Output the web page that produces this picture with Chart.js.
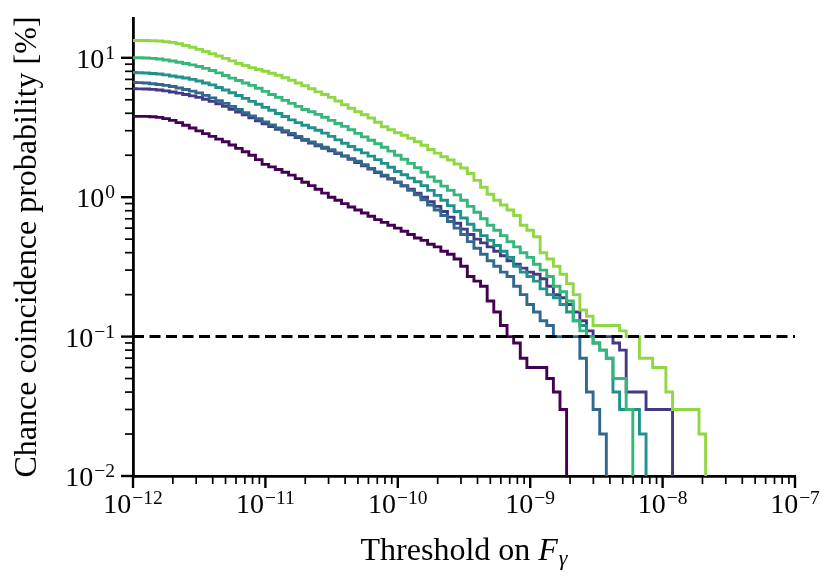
<!DOCTYPE html>
<html>
<head>
<meta charset="utf-8">
<script src="https://cdn.jsdelivr.net/npm/chart.js@4.4.1/dist/chart.umd.min.js"></script>
<style>
  html, body { margin: 0; padding: 0; background: #fff; }
  #wrap { width: 831px; height: 582px; }
</style>
</head>
<body>
<div id="wrap"><canvas id="chanceChart" width="831" height="582"></canvas></div>
<script>
// Threshold grid: 20 steps per decade, 1e-12 ... 1e-8
const mantissas = [1.000, 1.122, 1.259, 1.413, 1.585, 1.778, 1.995, 2.239, 2.512, 2.818,
                   3.162, 3.548, 3.981, 4.467, 5.012, 5.623, 6.310, 7.079, 7.943, 8.913];
const decades = [-12, -11, -10, -9, -8];

// Chance coincidence probability [%] at each threshold (0 = nothing left)
const probLime = [13.3, 13.3, 13.3, 13.25, 13.2, 13.05, 12.9, 12.6, 12.25, 11.9,
  11.5, 11.1, 10.7, 10.3, 9.9, 9.5, 9.1, 8.8, 8.5, 8.25,
  8.0, 7.75, 7.5, 7.2, 6.9, 6.6, 6.3, 6.0, 5.7, 5.45,
  5.2, 4.9, 4.6, 4.35, 4.1, 3.9, 3.7, 3.45, 3.2, 3.05,
  2.9, 2.78, 2.65, 2.5, 2.36, 2.2, 2.07, 1.95, 1.85, 1.73,
  1.62, 1.48, 1.32, 1.18, 1.05, 0.95, 0.88, 0.81, 0.74, 0.63,
  0.58, 0.52, 0.40, 0.36, 0.32, 0.28, 0.24, 0.20, 0.155, 0.14,
  0.12, 0.12, 0.12, 0.12, 0.11, 0.10, 0.10, 0.07, 0.07, 0.06,
  0.06, 0.04, 0.03, 0.03, 0.03, 0.03, 0.02, 0];
const probGreen = [10.0, 10.0, 9.97, 9.9, 9.8, 9.65, 9.49, 9.3, 9.1, 8.9,
  8.66, 8.4, 8.11, 7.8, 7.47, 7.15, 6.88, 6.6, 6.34, 6.05,
  5.74, 5.45, 5.2, 4.95, 4.71, 4.48, 4.26, 4.1, 3.93, 3.75,
  3.56, 3.38, 3.22, 3.05, 2.87, 2.71, 2.56, 2.42, 2.28, 2.14,
  2.0, 1.87, 1.75, 1.63, 1.51, 1.4, 1.3, 1.2, 1.12, 1.04,
  0.95, 0.86, 0.78, 0.7, 0.63, 0.58, 0.53, 0.48, 0.44, 0.4,
  0.37, 0.33, 0.3, 0.27, 0.23, 0.21, 0.18, 0.13, 0.11, 0.1,
  0.09, 0.08, 0.07, 0.05, 0.05, 0.03, 0];
const probTeal = [7.85, 7.82, 7.78, 7.72, 7.66, 7.54, 7.41, 7.29, 7.17, 7.0,
  6.82, 6.6, 6.39, 6.13, 5.88, 5.62, 5.37, 5.12, 4.87, 4.64,
  4.41, 4.2, 3.99, 3.79, 3.59, 3.43, 3.28, 3.15, 3.02, 2.88,
  2.73, 2.58, 2.44, 2.31, 2.19, 2.08, 1.97, 1.86, 1.75, 1.64,
  1.53, 1.45, 1.37, 1.29, 1.21, 1.12, 1.03, 0.95, 0.87, 0.79,
  0.71, 0.64, 0.58, 0.53, 0.49, 0.45, 0.41, 0.37, 0.32, 0.29,
  0.27, 0.25, 0.22, 0.2, 0.19, 0.17, 0.15, 0.13, 0.12, 0.1,
  0.09, 0.08, 0.07, 0.04, 0.03, 0.03, 0.03, 0.02, 0];
const probBlue = [6.66, 6.64, 6.6, 6.52, 6.44, 6.34, 6.23, 6.08, 5.93, 5.77,
  5.6, 5.38, 5.16, 4.93, 4.71, 4.48, 4.26, 4.04, 3.83, 3.65,
  3.47, 3.3, 3.14, 3.0, 2.87, 2.73, 2.6, 2.49, 2.38, 2.28,
  2.19, 2.08, 1.98, 1.89, 1.81, 1.71, 1.61, 1.52, 1.44, 1.36,
  1.28, 1.2, 1.12, 1.04, 0.96, 0.88, 0.81, 0.74, 0.67, 0.6,
  0.54, 0.48, 0.43, 0.39, 0.35, 0.32, 0.29, 0.27, 0.23, 0.2,
  0.17, 0.15, 0.13, 0.12, 0.1, 0.1, 0.1, 0.1, 0.07, 0.04,
  0.03, 0.02, 0];
const probIndigo = [6.0, 5.99, 5.98, 5.94, 5.88, 5.79, 5.69, 5.58, 5.46, 5.33,
  5.2, 5.04, 4.87, 4.68, 4.48, 4.28, 4.09, 3.9, 3.71, 3.53,
  3.36, 3.21, 3.07, 2.93, 2.8, 2.68, 2.56, 2.45, 2.34, 2.24,
  2.15, 2.06, 1.97, 1.87, 1.77, 1.68, 1.59, 1.5, 1.42, 1.35,
  1.28, 1.21, 1.14, 1.07, 1.0, 0.93, 0.86, 0.79, 0.72, 0.65,
  0.59, 0.54, 0.5, 0.47, 0.44, 0.41, 0.38, 0.35, 0.33, 0.31,
  0.29, 0.28, 0.26, 0.23, 0.2, 0.19, 0.17, 0.15, 0.13, 0.11,
  0.1, 0.1, 0.1, 0.09, 0.08, 0.04, 0.04, 0.04, 0.03, 0.03,
  0.03, 0.03, 0];
const probPurple = [3.8, 3.8, 3.8, 3.78, 3.74, 3.66, 3.56, 3.43, 3.28, 3.14,
  2.99, 2.86, 2.73, 2.61, 2.5, 2.37, 2.24, 2.12, 2.0, 1.86,
  1.72, 1.65, 1.58, 1.51, 1.44, 1.36, 1.28, 1.21, 1.14, 1.07,
  1.0, 0.95, 0.9, 0.85, 0.81, 0.77, 0.73, 0.69, 0.66, 0.63,
  0.6, 0.57, 0.54, 0.51, 0.49, 0.46, 0.44, 0.41, 0.39, 0.36,
  0.32, 0.27, 0.25, 0.23, 0.18, 0.15, 0.12, 0.1, 0.09, 0.07,
  0.06, 0.06, 0.06, 0.05, 0.04, 0.03, 0];

const seriesList = [probLime, probGreen, probTeal, probBlue, probIndigo, probPurple];
const lineColors = ['#90d743', '#35b779', '#21918c', '#31688e', '#443983', '#440154'];

const refLevel = 0.1;                 // dashed line
const xLimits = [1e-12, 1e-7];
const yLimits = [1e-2, 19.3];
const xTickExps = [-12, -11, -10, -9, -8, -7];
const yTickExps = [-2, -1, 0, 1];
const minorMults = [2, 3, 4, 5, 6, 7, 8, 9];

const thresholds = [];
decades.forEach(d => mantissas.forEach(m => thresholds.push(m * Math.pow(10, d))));

const FONT = '"Liberation Serif", "Times New Roman", serif';
const belowAxis = 1e-3;   // zeros are drawn as a drop off the bottom

const datasets = [{
  data: [{ x: xLimits[0], y: refLevel }, { x: xLimits[1], y: refLevel }],
  borderColor: '#000',
  borderWidth: 3,
  borderDash: [11, 5.5],
  pointRadius: 0
}];
seriesList.forEach((vals, i) => {
  datasets.push({
    data: vals.map((v, k) => ({ x: thresholds[k], y: v > 0 ? v : belowAxis })),
    borderColor: lineColors[i],
    borderWidth: 2.9,
    stepped: 'middle',
    pointRadius: 0,
    borderJoinStyle: 'miter'
  });
});

function drawPow(ctx, exp, x, baseline, align) {
  const base = '10';
  const sup = exp < 0 ? '\u2212' + Math.abs(exp) : String(exp);
  ctx.font = '28px ' + FONT;
  const wb = ctx.measureText(base).width;
  ctx.font = '19.5px ' + FONT;
  const ws = ctx.measureText(sup).width;
  const total = wb + 1 + ws;
  const x0 = align === 'center' ? x - total / 2 : x - total;
  ctx.textAlign = 'left';
  ctx.textBaseline = 'alphabetic';
  ctx.font = '28px ' + FONT;
  ctx.fillText(base, x0, baseline);
  ctx.font = '19.5px ' + FONT;
  ctx.fillText(sup, x0 + wb + 1, baseline - 9);
}

const axisDecor = {
  id: 'axisDecor',
  afterDraw(chart) {
    const { ctx, chartArea: a, scales: { x, y } } = chart;
    ctx.save();
    ctx.strokeStyle = '#000';
    ctx.fillStyle = '#000';

    // x ticks
    xTickExps.forEach((e, i) => {
      const px = x.getPixelForValue(Math.pow(10, e));
      ctx.lineWidth = 2.4;
      ctx.beginPath(); ctx.moveTo(px, a.bottom); ctx.lineTo(px, a.bottom + 12); ctx.stroke();
      drawPow(ctx, e, px, a.bottom + 37, 'center');
      if (i < xTickExps.length - 1) {
        minorMults.forEach(m => {
          const mx = x.getPixelForValue(m * Math.pow(10, e));
          ctx.lineWidth = 1.7;
          ctx.beginPath(); ctx.moveTo(mx, a.bottom); ctx.lineTo(mx, a.bottom + 8); ctx.stroke();
        });
      }
    });

    // y ticks
    yTickExps.forEach(e => {
      const py = y.getPixelForValue(Math.pow(10, e));
      ctx.lineWidth = 2.4;
      ctx.beginPath(); ctx.moveTo(a.left, py); ctx.lineTo(a.left - 12, py); ctx.stroke();
      drawPow(ctx, e, a.left - 18, py + 10, 'right');
      minorMults.forEach(m => {
        const v = m * Math.pow(10, e);
        if (v > yLimits[1]) return;
        const my = y.getPixelForValue(v);
        ctx.lineWidth = 1.7;
        ctx.beginPath(); ctx.moveTo(a.left, my); ctx.lineTo(a.left - 8, my); ctx.stroke();
      });
    });

    // x title: Threshold on F_gamma
    const t1 = 'Threshold on ';
    ctx.font = '32px ' + FONT;
    const w1 = ctx.measureText(t1).width;
    ctx.font = 'italic 32px ' + FONT;
    const wF = ctx.measureText('F').width;
    ctx.font = 'italic 22px ' + FONT;
    const wg = ctx.measureText('\u03b3').width;
    const cx = (a.left + a.right) / 2;
    let tx = cx - (w1 + wF + wg + 1) / 2;
    const tb = 560;
    ctx.textAlign = 'left';
    ctx.textBaseline = 'alphabetic';
    ctx.font = '32px ' + FONT;
    ctx.fillText(t1, tx, tb);
    tx += w1;
    ctx.font = 'italic 32px ' + FONT;
    ctx.fillText('F', tx, tb);
    tx += wF + 1;
    ctx.font = 'italic 22px ' + FONT;
    ctx.fillText('\u03b3', tx, tb + 5);

    // y title
    ctx.save();
    ctx.translate(36, (a.top + a.bottom) / 2);
    ctx.rotate(-Math.PI / 2);
    ctx.font = '32px ' + FONT;
    ctx.textAlign = 'center';
    ctx.fillText('Chance coincidence probability [%]', 0, 0);
    ctx.restore();

    ctx.restore();
  }
};

new Chart(document.getElementById('chanceChart'), {
  type: 'line',
  data: { datasets },
  options: {
    responsive: false,
    animation: false,
    devicePixelRatio: 1,
    layout: { padding: { left: 133, right: 36, top: 18, bottom: 106 } },
    plugins: { legend: { display: false }, tooltip: { enabled: false } },
    elements: { point: { radius: 0 } },
    scales: {
      x: {
        type: 'logarithmic',
        min: xLimits[0], max: xLimits[1],
        ticks: { display: false },
        grid: { display: false, drawTicks: false },
        border: { display: true, color: '#000', width: 2.8 }
      },
      y: {
        type: 'logarithmic',
        min: yLimits[0], max: yLimits[1],
        ticks: { display: false },
        grid: { display: false, drawTicks: false },
        border: { display: true, color: '#000', width: 2.8 }
      }
    }
  },
  plugins: [axisDecor]
});
</script>
</body>
</html>
